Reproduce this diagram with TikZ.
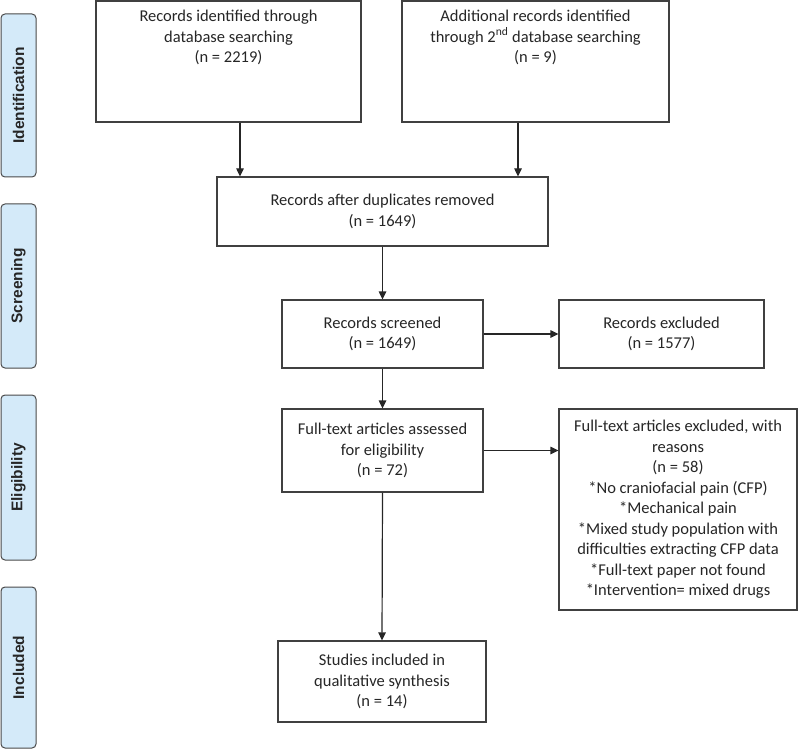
\documentclass[tikz,border=0pt]{standalone}
\usepackage{fontspec}
\setmainfont{Carlito}
\newfontfamily\labfont{Liberation Sans}
\usetikzlibrary{arrows.meta}
\definecolor{sidefill}{HTML}{D4EAF9}
\definecolor{sidedraw}{HTML}{4A4A4A}
\definecolor{boxdraw}{HTML}{404040}
\definecolor{txtcol}{HTML}{262626}
\tikzset{
  box/.style={draw=boxdraw, line width=1.2pt, inner sep=0pt, align=center,
    font=\fontsize{16.5}{20.5}\selectfont, text=txtcol, fill=white},
  txt/.style={inner sep=0pt, align=center, font=\fontsize{16.5}{20.5}\selectfont, text=txtcol},
  side/.style={draw=sidedraw, fill=sidefill, line width=1pt, rounded corners=4pt,
    minimum width=35pt, inner sep=0pt},
  sidetext/.style={rotate=90, font=\labfont\bfseries\fontsize{15.5}{18}\selectfont, text=black!85},
  arr/.style={draw=black!85, line width=1.2pt, -{Triangle[length=8pt,width=7.5pt]}}
}
\begin{document}
\begin{tikzpicture}[x=1pt,y=-1pt]
\useasboundingbox (0,0) rectangle (800,751);
% side labels
\node[side, minimum height=163pt] (s1) at (18.5,95.5) {};
\node[sidetext] (s1t) at (s1.center) {Identification};
\node[side, minimum height=164pt] (s2) at (18.5,286) {};
\node[sidetext] (s2t) at (s2.center) {Screening};
\node[side, minimum height=165pt] (s3) at (18.5,477.5) {};
\node[sidetext] (s3t) at (s3.center) {Eligibility};
\node[side, minimum height=161pt] (s4) at (18.5,667.5) {};
\node[sidetext] (s4t) at (s4.center) {Included};
% boxes
\node[box, minimum width=265pt, minimum height=121pt] (b1) at (228.5,61.5) {};
\node[txt, anchor=north] (t1) at ([yshift=-9.5pt]b1.north) {Records identified through\\database searching\\(n = 2219)};
\node[box, minimum width=267pt, minimum height=121pt] (b2) at (535.5,61.5) {};
\node[txt, anchor=north] (t2) at ([yshift=-9.5pt]b2.north) {Additional records identified\\through 2\textsuperscript{nd} database searching\\(n = 9)};
\node[box, minimum width=331pt, minimum height=69pt] (b3) at (382.5,211.5) {Records after duplicates removed\\(n = 1649)};
\node[box, minimum width=201pt, minimum height=68pt] (b4) at (382.5,334) {Records screened\\(n = 1649)};
\node[box, minimum width=205pt, minimum height=68pt] (b5) at (661.5,334) {Records excluded\\(n = 1577)};
\node[box, minimum width=201pt, minimum height=83pt] (b6) at (382.5,450.5) {Full-text articles assessed\\for eligibility\\(n = 72)};
\node[box, minimum width=238pt, minimum height=201pt] (b7) at (678,509.5) {Full-text articles excluded, with\\reasons\\(n = 58)\\*No craniofacial pain (CFP)\\*Mechanical pain\\*Mixed study population with\\difficulties extracting CFP data\\*Full-text paper not found\\*Intervention= mixed drugs};
\node[box, minimum width=208pt, minimum height=81pt] (b8) at (382,681.5) {Studies included in\\qualitative synthesis\\(n = 14)};
% connectors
\coordinate (c1) at (240,0);
\coordinate (c2) at (518,0);
\draw[arr] (b1.south -| c1) -- (b3.north -| c1);
\draw[arr] (b2.south -| c2) -- (b3.north -| c2);
\draw[arr] (b3.south) -- (b4.north);
\draw[arr] (b4.east) -- (b5.west);
\draw[arr] (b4.south) -- (b6.north);
\draw[arr] (b6.east) -- (b6.east -| b7.west);
\draw[arr] (b6.south) -- (b8.north);
\end{tikzpicture}
\end{document}
